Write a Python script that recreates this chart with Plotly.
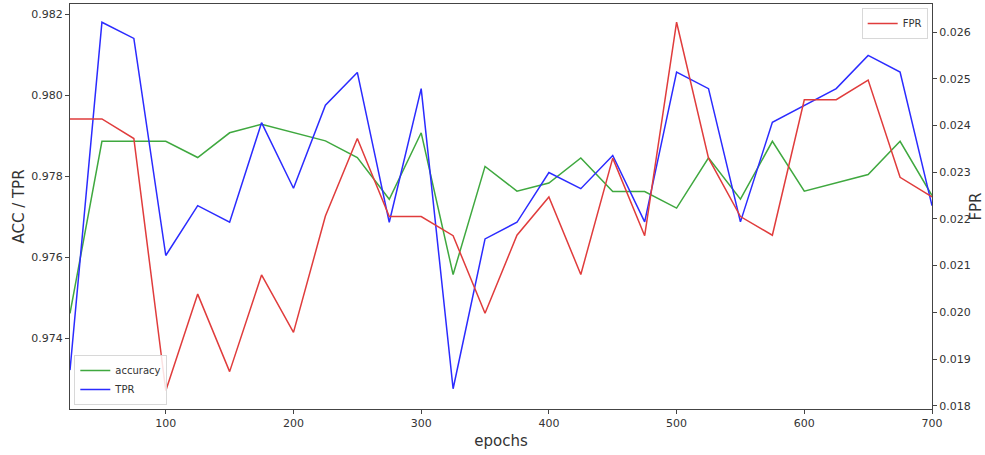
import plotly.graph_objects as go

epochs = list(range(25, 701, 25))
accuracy = [0.97462, 0.97887, 0.97887, 0.97887, 0.97847, 0.97908, 0.97929, 0.97908,
            0.97888, 0.97847, 0.97744, 0.97908, 0.97558, 0.97825, 0.97764, 0.97784,
            0.97846, 0.97763, 0.97763, 0.97722, 0.97846, 0.97744, 0.97887, 0.97764,
            0.97784, 0.97805, 0.97887, 0.97753]
tpr = [0.97322, 0.98181, 0.98141, 0.97605, 0.97728, 0.97687, 0.97933, 0.97771,
       0.97976, 0.98057, 0.97687, 0.98017, 0.97276, 0.97646, 0.97687, 0.97810,
       0.97770, 0.97852, 0.97688, 0.98058, 0.98017, 0.97688, 0.97934, 0.97976,
       0.98017, 0.98099, 0.98058, 0.97728]
fpr = [0.02414, 0.02414, 0.02372, 0.01832, 0.02039, 0.01873, 0.02080, 0.01957,
       0.02206, 0.02372, 0.02205, 0.02205, 0.02164, 0.01998, 0.02165, 0.02247,
       0.02081, 0.02330, 0.02164, 0.02621, 0.02330, 0.02205, 0.02165, 0.02455,
       0.02455, 0.02497, 0.02289, 0.02247]

x_ticks = [100, 200, 300, 400, 500, 600, 700]
left_ticks = [0.974, 0.976, 0.978, 0.980, 0.982]
right_ticks = [0.018, 0.019, 0.020, 0.021, 0.022, 0.023, 0.024, 0.025, 0.026]

GREEN = "#3fa83f"
BLUE = "#2b2bff"
RED = "#e03c3c"
TXT = "#333333"

fig = go.Figure()
fig.add_trace(go.Scatter(x=epochs, y=accuracy, mode="lines", name="accuracy",
                         line=dict(color=GREEN, width=1.5), legend="legend"))
fig.add_trace(go.Scatter(x=epochs, y=tpr, mode="lines", name="TPR",
                         line=dict(color=BLUE, width=1.5), legend="legend"))
fig.add_trace(go.Scatter(x=epochs, y=fpr, mode="lines", name="FPR", yaxis="y2",
                         line=dict(color=RED, width=1.5), legend="legend2"))

axis_common = dict(showgrid=False, zeroline=False, showline=True, linecolor="#444444",
                   linewidth=1, ticks="outside", ticklen=4, tickcolor="#444444",
                   automargin=False,
                   tickfont=dict(family="DejaVu Sans", size=11, color=TXT))

fig.update_layout(
    width=985, height=455,
    margin=dict(l=70, r=53, t=4, b=46),
    paper_bgcolor="white", plot_bgcolor="white",
    font=dict(family="DejaVu Sans", color=TXT),
    xaxis=dict(**axis_common, range=[25, 700], tickvals=x_ticks, mirror=True,
               title=dict(text="epochs", font=dict(size=15, color=TXT), standoff=6)),
    yaxis=dict(**axis_common, range=[0.97226, 0.98226], tickvals=left_ticks,
               tickformat=".3f",
               title=dict(text="ACC / TPR", font=dict(size=15, color=TXT), standoff=3)),
    yaxis2=dict(**axis_common, overlaying="y", side="right", range=[0.01793, 0.02660],
                tickvals=right_ticks, tickformat=".3f",
                title=dict(text="FPR", font=dict(size=15, color=TXT), standoff=5)),
    legend=dict(x=0.005, y=0.01, xanchor="left", yanchor="bottom",
                bgcolor="rgba(255,255,255,0.85)", bordercolor="#d8d8d8", borderwidth=1,
                font=dict(size=10, color=TXT), itemwidth=30, tracegroupgap=0),
    legend2=dict(x=0.995, y=0.99, xanchor="right", yanchor="top",
                 bgcolor="rgba(255,255,255,0.85)", bordercolor="#d8d8d8", borderwidth=1,
                 font=dict(size=10, color=TXT), itemwidth=30),
    showlegend=True,
)

fig.write_html("out.html", config={"displayModeBar": False},
               post_script="document.body.style.margin='0';")
